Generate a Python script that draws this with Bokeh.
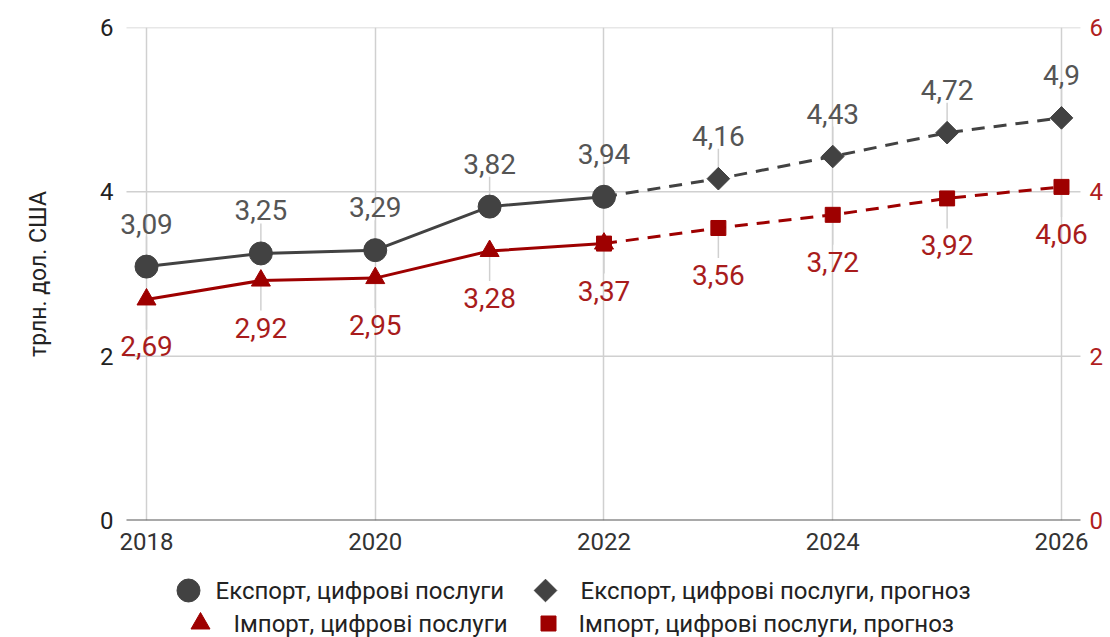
import numpy as np
from bokeh.plotting import figure
from bokeh.models import Range1d, LinearAxis, Label, FixedTicker
from bokeh.layouts import column
from bokeh.embed import file_html
from bokeh.resources import INLINE
from bokeh.core.properties import value

# ---------------- data ----------------
years_actual = [2018, 2019, 2020, 2021, 2022]
years_forecast = [2022, 2023, 2024, 2025, 2026]
export_actual = [3.09, 3.25, 3.29, 3.82, 3.94]
export_forecast = [3.94, 4.16, 4.43, 4.72, 4.90]
import_actual = [2.69, 2.92, 2.95, 3.28, 3.37]
import_forecast = [3.37, 3.56, 3.72, 3.92, 4.06]
series_names = ["Експорт, цифрові послуги", "Експорт, цифрові послуги, прогноз",
                "Імпорт, цифрові послуги", "Імпорт, цифрові послуги, прогноз"]
x_ticks = [2018, 2020, 2022, 2024, 2026]
y_ticks = [0, 2, 4, 6]
y_title = "трлн. дол. США"

# ---------------- styles / layout ----------------
FONT = "Roboto"
GRAY = "#424242"
RED = "#9e0000"
RED_TXT = "#a81c1c"
GRID = "#d0d0d0"
BL, FW, BR = 114, 974, 22            # left border, frame width, right border (px)
X_VIEW = (2017.7202, 2026.2361)      # x range of the (widened) frame
X_GRID = (2017.825, 2026.166)        # horizontal extent of the drawn chart area

def fmt(v):
    return ("%g" % v).replace(".", ",")

p = figure(frame_width=FW, frame_height=493,
           x_range=Range1d(*X_VIEW), y_range=Range1d(0, 6),
           output_backend="svg", toolbar_location=None,
           min_border_left=BL, min_border_right=BR, min_border_top=27, min_border_bottom=48)
p.outline_line_color = None
p.background_fill_color = "white"
p.border_fill_color = "white"

# vertical grid (full height) from ticks; horizontal grid drawn over chart area only
p.xgrid.ticker = FixedTicker(ticks=x_ticks)
p.xgrid.grid_line_color = GRID
p.xgrid.grid_line_width = 1.5
p.ygrid.visible = False
hy = [t for t in y_ticks if t != 0]
p.segment(x0=[X_GRID[0]] * len(hy), y0=hy, x1=[X_GRID[1]] * len(hy), y1=hy,
          line_color=GRID, line_width=1.5)
p.segment(x0=[X_GRID[0]], y0=[0], x1=[X_GRID[1]], y1=[0], line_color="#555555", line_width=2)

# x axis
xa = p.xaxis[0]
xa.ticker = FixedTicker(ticks=x_ticks)
xa.major_tick_out = 0
xa.major_tick_in = 0
xa.minor_tick_out = 0
xa.minor_tick_in = 0
xa.axis_line_color = None
xa.major_label_standoff = 12
xa.major_label_text_font = FONT
xa.major_label_text_font_size = "24px"
xa.major_label_text_color = "#333333"

# left y axis
ya = p.yaxis[0]
ya.ticker = FixedTicker(ticks=y_ticks)
ya.major_tick_out = 0
ya.major_tick_in = 0
ya.minor_tick_out = 0
ya.minor_tick_in = 0
ya.axis_line_color = None
ya.major_label_standoff = 1
ya.major_label_text_font = FONT
ya.major_label_text_font_size = "24px"
ya.major_label_text_color = "#222222"
ya.axis_label = y_title
ya.axis_label_text_font = FONT
ya.axis_label_text_font_style = "normal"
ya.axis_label_text_font_size = "23px"
ya.axis_label_text_color = "#222222"
ya.axis_label_standoff = 45

# right y axis
ra = LinearAxis(ticker=FixedTicker(ticks=y_ticks))
ra.major_tick_out = 0
ra.major_tick_in = 0
ra.minor_tick_out = 0
ra.minor_tick_in = 0
ra.axis_line_color = None
ra.major_label_standoff = 1
ra.major_label_text_font = FONT
ra.major_label_text_font_size = "24px"
ra.major_label_text_color = "#b01e1e"
p.add_layout(ra, "right")

# annotation stems
all_years = years_actual + years_forecast[1:]
all_export = export_actual + export_forecast[1:]
all_import = import_actual + import_forecast[1:]
stem = 0.365
p.segment(x0=all_years, y0=all_export, x1=all_years,
          y1=[v + stem for v in all_export], line_color=GRID, line_width=1.5)
p.segment(x0=all_years, y0=all_import, x1=all_years,
          y1=[v - stem for v in all_import], line_color=GRID, line_width=1.5)

# lines
p.line(years_actual, export_actual, line_color=GRAY, line_width=3)
p.line(years_forecast, export_forecast, line_color=GRAY, line_width=3, line_dash="13 9")
p.line(years_actual, import_actual, line_color=RED, line_width=3)
p.line(years_forecast, import_forecast, line_color=RED, line_width=3, line_dash="13 9")

# markers
p.scatter(years_forecast, export_forecast, marker="square", angle=np.pi / 4, size=16, color=GRAY)
p.scatter(years_actual, export_actual, marker="circle", size=23, color=GRAY)
p.scatter(years_actual, import_actual, marker="triangle", size=19, color=RED)
p.scatter(years_forecast, import_forecast, marker="square", size=15, color=RED)

# data labels
for yr, v in zip(all_years, all_export):
    p.add_layout(Label(x=yr, y=v, text=fmt(v), y_offset=43, text_align="center",
                       text_baseline="middle", text_font=FONT,
                       text_font_size="28px", text_color="#555555"))
for yr, v in zip(all_years, all_import):
    p.add_layout(Label(x=yr, y=v, text=fmt(v), y_offset=-47, text_align="center",
                       text_baseline="middle", text_font=FONT,
                       text_font_size="28px", text_color=RED_TXT))

# ---------------- legend (separate strip, frame aligned with main plot) ----------------
LH = 69
lf = figure(frame_width=FW, frame_height=LH,
            x_range=Range1d(BL, BL + FW), y_range=Range1d(0, LH),
            output_backend="svg", toolbar_location=None,
            min_border_left=BL, min_border_right=BR, min_border_top=0, min_border_bottom=0,
            x_axis_type=None, y_axis_type=None)
lf.outline_line_color = None
lf.grid.visible = False

row1, row2 = LH - 22, LH - 55
leg_markers = [
    dict(x=188, y=row1, marker="circle", size=23, angle=0, color=GRAY, tx=215),
    dict(x=545, y=row1, marker="square", size=16, angle=np.pi / 4, color=GRAY, tx=580),
    dict(x=200, y=row2, marker="triangle", size=19, angle=0, color=RED, tx=233),
    dict(x=548, y=row2, marker="square", size=15, angle=0, color=RED, tx=578),
]
for m, name in zip(leg_markers, series_names):
    lf.scatter([m["x"]], [m["y"]], marker=m["marker"], size=m["size"], angle=m["angle"], color=m["color"])
    lf.text([m["tx"]], [m["y"]], text=[name], text_font=value(FONT), text_font_size="24px",
            text_baseline="middle", text_align="left", text_color="#222222")

layout = column(p, lf, spacing=0)
open("out.html", "w").write(file_html(layout, INLINE))
